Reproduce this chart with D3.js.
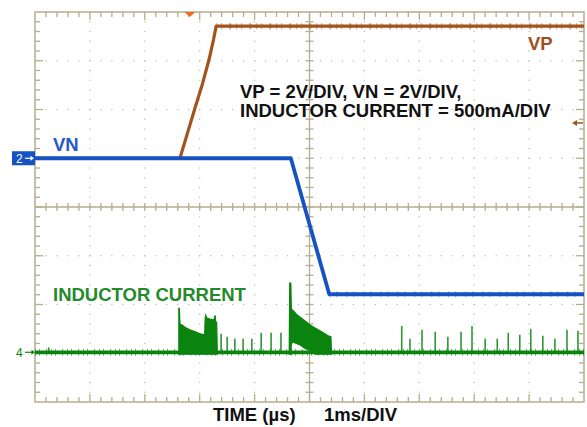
<!DOCTYPE html>
<html>
<head>
<meta charset="utf-8">
<script src="https://cdn.jsdelivr.net/npm/d3@7"></script>
<style>
  body { margin: 0; background: #fff; }
  text { font-family: "Liberation Sans", Arial, sans-serif; }
</style>
</head>
<body>
<svg width="587" height="427"></svg>
<script>
/* ---- data (time in ms from left edge) ---- */
var vpTrace = [[0, 0], [2.64, 0], [2.78, 1.05], [2.92, 2.10], [3.05, 3.05],
               [3.17, 4.05], [3.25, 4.85], [3.30, 5.42], [10, 5.42]];           // volts
var vnTrace = [[0, 0], [4.66, 0], [5.36, -5.58], [10, -5.58]];                  // volts
var ilBase  = [[0, 0.01], [10, 0.01]];                                          // amps
// bursts: [t, top, bottom] in amps
var burst1 = [[2.62, 0.46, -0.01], [2.63, 0.46, -0.01], [2.64, 0.30, -0.01], [2.68, 0.29, -0.01],
              [2.75, 0.26, -0.01], [2.82, 0.24, -0.01], [2.92, 0.22, -0.01], [3.01, 0.20, -0.01],
              [3.09, 0.19, -0.01], [3.10, 0.36, -0.01], [3.11, 0.39, -0.01], [3.13, 0.36, -0.01],
              [3.19, 0.35, -0.01], [3.26, 0.34, -0.01], [3.28, 0.39, -0.01], [3.29, 0.33, -0.01],
              [3.31, 0.31, -0.01], [3.32, 0.02, -0.01]];
var burst2 = [[4.63, 0.02, -0.01], [4.64, 0.72, -0.01], [4.66, 0.72, -0.01], [4.67, 0.45, 0.10],
              [4.70, 0.44, 0.115], [4.76, 0.40, 0.10], [4.83, 0.37, 0.085], [4.92, 0.33, 0.05],
              [5.01, 0.29, 0.03], [5.10, 0.26, -0.01], [5.19, 0.23, -0.01], [5.28, 0.20, -0.01],
              [5.34, 0.18, -0.01], [5.39, 0.17, -0.01], [5.40, 0.01, -0.01]];
// single switching spikes: [t, peak amps]
var spikes = [[0.25, 0.06], [3.39, 0.20], [3.50, 0.17], [3.64, 0.15], [3.79, 0.15], [3.95, 0.15],
              [4.12, 0.21], [4.30, 0.21], [4.48, 0.21], [6.68, 0.28], [6.83, 0.15], [7.05, 0.24],
              [7.29, 0.22], [7.52, 0.17], [7.76, 0.22], [7.96, 0.28], [8.20, 0.15], [8.42, 0.15],
              [8.62, 0.21], [8.83, 0.19], [9.03, 0.25], [9.25, 0.18], [9.47, 0.15], [9.69, 0.24],
              [9.89, 0.23]];
var trigTime = 2.82, trigLevelV = 1.45;
var annotLines = ["VP = 2V/DIV, VN = 2V/DIV,", "INDUCTOR CURRENT = 500mA/DIV"];

/* ---- scales ---- */
var svg = d3.select("svg");
var x = d3.scaleLinear().domain([0, 10]).range([35, 584]);
var y = d3.scaleLinear().domain([-4, 4]).range([402, 12]);   // divisions
var vDiv = function(v) { return y(v / 2 + 1); };             // ch1/ch2: 2V/div, ground at +1 div
var iDiv = function(a) { return y(a / 0.5 - 3); };           // ch4: 0.5A/div, ground at -3 div

var frameCol = "#b5ad8d", dotCol = "#b9b9b0";
var g = svg.append("g");

/* dotted grid */
d3.range(1, 10).filter(function(i) { return i !== 5; }).forEach(function(i) {
  d3.range(1, 40).forEach(function(k) {
    g.append("rect").attr("x", x(i) - 0.6).attr("y", y(-4 + k * 0.2) - 0.6)
      .attr("width", 1.2).attr("height", 1.2).attr("fill", dotCol);
  });
});
d3.range(-3, 4).filter(function(j) { return j !== 0; }).forEach(function(j) {
  d3.range(1, 50).forEach(function(k) {
    g.append("rect").attr("x", x(k * 0.2) - 0.6).attr("y", y(j) - 0.6)
      .attr("width", 1.2).attr("height", 1.2).attr("fill", dotCol);
  });
});

/* frame + center axes */
g.append("rect").attr("x", x(0)).attr("y", y(4)).attr("width", x(10) - x(0)).attr("height", y(-4) - y(4))
  .attr("fill", "none").attr("stroke", frameCol).attr("stroke-width", 1.5);
g.append("line").attr("x1", x(5)).attr("x2", x(5)).attr("y1", y(4)).attr("y2", y(-4))
  .attr("stroke", frameCol).attr("stroke-width", 1.3);
g.append("line").attr("x1", x(0)).attr("x2", x(10)).attr("y1", y(0)).attr("y2", y(0))
  .attr("stroke", frameCol).attr("stroke-width", 1.3);

/* minor ticks */
d3.range(1, 50).forEach(function(k) {
  var xx = x(k * 0.2), major = k % 5 === 0, L = major ? 8 : 5;
  g.append("line").attr("x1", xx).attr("x2", xx).attr("y1", y(4)).attr("y2", y(4) + L).attr("stroke", frameCol).attr("stroke-width", 1.3);
  g.append("line").attr("x1", xx).attr("x2", xx).attr("y1", y(-4)).attr("y2", y(-4) - L).attr("stroke", frameCol).attr("stroke-width", 1.3);
  g.append("line").attr("x1", xx).attr("x2", xx).attr("y1", y(0) - 4).attr("y2", y(0) + 4).attr("stroke", frameCol).attr("stroke-width", 1.3);
});
d3.range(1, 40).forEach(function(k) {
  var yy = y(-4 + k * 0.2), major = k % 5 === 0, L = major ? 8 : 5;
  g.append("line").attr("y1", yy).attr("y2", yy).attr("x1", x(0)).attr("x2", x(0) + L).attr("stroke", frameCol).attr("stroke-width", 1.3);
  g.append("line").attr("y1", yy).attr("y2", yy).attr("x1", x(10)).attr("x2", x(10) - L).attr("stroke", frameCol).attr("stroke-width", 1.3);
  g.append("line").attr("y1", yy).attr("y2", yy).attr("x1", x(5) - 4).attr("x2", x(5) + 4).attr("stroke", frameCol).attr("stroke-width", 1.3);
});

/* ---- traces ---- */
var green = "#0b840f", blue = "#1553c4", brown = "#a3541d";

var area = d3.area().x(function(d) { return x(d[0]); })
  .y0(function(d) { return iDiv(d[2]); }).y1(function(d) { return iDiv(d[1]); });
var lineI = d3.line().x(function(d) { return x(d[0]); }).y(function(d) { return iDiv(d[1]); });
var lineV = d3.line().x(function(d) { return x(d[0]); }).y(function(d) { return vDiv(d[1]); });

svg.append("path").attr("d", lineI(ilBase)).attr("stroke", green).attr("stroke-width", 3.8).attr("fill", "none");
svg.append("path").attr("d", lineI(ilBase)).attr("stroke", green).attr("stroke-width", 7)
  .attr("stroke-dasharray", "1 3 1 6 1 4").attr("opacity", 0.55).attr("fill", "none");
[burst1, burst2].forEach(function(b) {
  svg.append("path").attr("d", area(b)).attr("fill", green).attr("stroke", green).attr("stroke-width", 1.2);
});
svg.selectAll(".spike").data(spikes).enter().append("line").attr("class", "spike")
  .attr("x1", function(d) { return x(d[0]); }).attr("x2", function(d) { return x(d[0]); })
  .attr("y1", iDiv(0.01)).attr("y2", function(d) { return iDiv(d[1]); })
  .attr("stroke", green).attr("stroke-width", 1.6).attr("opacity", 0.85);

svg.append("path").attr("d", lineV(vpTrace)).attr("stroke", brown).attr("stroke-width", 3.2)
  .attr("fill", "none").attr("stroke-linejoin", "round");
svg.append("path").attr("d", lineV(vpTrace.slice(-2))).attr("stroke", brown).attr("stroke-width", 6)
  .attr("stroke-dasharray", "1 4 1 7 2 5").attr("opacity", 0.55).attr("fill", "none");
svg.append("path").attr("d", lineV(vnTrace)).attr("stroke", blue).attr("stroke-width", 3.8)
  .attr("fill", "none").attr("stroke-linejoin", "round");
svg.append("path").attr("d", lineV([vnTrace[2], vnTrace[3]])).attr("stroke", blue).attr("stroke-width", 6)
  .attr("stroke-dasharray", "1 6 1 9").attr("opacity", 0.5).attr("fill", "none");

/* ---- markers ---- */
var tx = x(trigTime);
svg.append("path").attr("d", "M" + (tx - 5.5) + "," + y(4) + "L" + (tx + 5.5) + "," + y(4) + "L" + tx + "," + (y(4) + 5) + "Z")
  .attr("fill", "#f26a22");
var ty = vDiv(trigLevelV);
svg.append("line").attr("x1", x(10) - 10).attr("x2", x(10) - 1).attr("y1", ty).attr("y2", ty).attr("stroke", brown).attr("stroke-width", 1.5);
svg.append("path").attr("d", "M" + (x(10) - 12) + "," + ty + "l5,-3l0,6Z").attr("fill", brown);

var c2 = vDiv(0);
svg.append("rect").attr("x", 12).attr("y", c2 - 7).attr("width", 23).attr("height", 14).attr("fill", blue);
svg.append("text").attr("x", 16).attr("y", c2 + 4.5).attr("fill", "#fff").attr("font-size", 12).text("2");
svg.append("line").attr("x1", 25).attr("x2", 33).attr("y1", c2).attr("y2", c2).attr("stroke", "#fff").attr("stroke-width", 1.2);
svg.append("path").attr("d", "M34," + c2 + "l-3.5,-2.5l0,5Z").attr("fill", "#fff");

var c4 = iDiv(0.01);
svg.append("text").attr("x", 16).attr("y", c4 + 4.5).attr("fill", green).attr("font-size", 12).text("4");
svg.append("line").attr("x1", 25).attr("x2", 33).attr("y1", c4).attr("y2", c4).attr("stroke", green).attr("stroke-width", 1.2);
svg.append("path").attr("d", "M35," + c4 + "l-3.5,-2.5l0,5Z").attr("fill", green);

/* ---- labels ---- */
function label(txt, xx, yy, col) {
  svg.append("text").attr("x", xx).attr("y", yy).attr("fill", col)
    .attr("font-size", 18.5).attr("font-weight", "bold").text(txt);
}
label("VP", 528, 50, "#a0501e");
label("VN", 53, 151, "#2458cc");
label("INDUCTOR CURRENT", 53, 301, "#238a2a");
label(annotLines[0], 240, 97.5, "#111");
label(annotLines[1], 240, 117, "#111");
label("TIME (µs)", 213, 421, "#111");
label("1ms/DIV", 324, 421, "#111");
</script>
</body>
</html>
